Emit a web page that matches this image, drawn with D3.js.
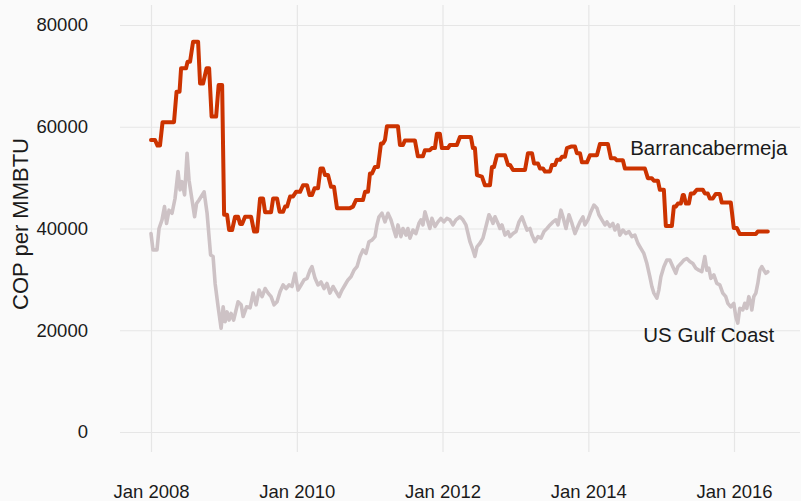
<!DOCTYPE html>
<html>
<head>
<meta charset="utf-8">
<script src="https://cdn.jsdelivr.net/npm/d3@7"></script>
<style>
  html, body { margin: 0; padding: 0; background: #fafafa; }
  svg { display: block; font-family: "Liberation Sans", Arial, sans-serif; }
  .grid line { stroke: #e6e6e6; stroke-width: 1.2; }
  .grid text { fill: #1a1a1a; font-size: 18.5px; }
  .series { fill: none; stroke-linejoin: round; stroke-linecap: round; }
</style>
</head>
<body>
<svg id="chart" width="801" height="501"></svg>
<script>
// Barrancabermeja price, decimal year -> COP per MMBTU (step-like monthly changes).
const barrYears = [
  2008.000, 2008.055, 2008.089, 2008.123, 2008.158, 2008.315, 2008.350, 2008.391,
  2008.412, 2008.480, 2008.501, 2008.535, 2008.576, 2008.645, 2008.672, 2008.713,
  2008.761, 2008.796, 2008.830, 2008.892, 2008.926, 2008.974, 2009.001, 2009.042,
  2009.070, 2009.111, 2009.152, 2009.193, 2009.221, 2009.248, 2009.289, 2009.372,
  2009.413, 2009.454, 2009.495, 2009.536, 2009.564, 2009.646, 2009.674, 2009.728,
  2009.763, 2009.811, 2009.838, 2009.866, 2009.907, 2009.948, 2009.989, 2010.044,
  2010.085, 2010.140, 2010.174, 2010.208, 2010.243, 2010.291, 2010.325, 2010.359,
  2010.387, 2010.428, 2010.469, 2010.510, 2010.551, 2010.730, 2010.771, 2010.812,
  2010.908, 2010.936, 2010.977, 2011.004, 2011.031, 2011.073, 2011.114, 2011.155,
  2011.182, 2011.210, 2011.237, 2011.388, 2011.416, 2011.457, 2011.484, 2011.621,
  2011.662, 2011.731, 2011.759, 2011.827, 2011.855, 2011.896, 2011.923, 2011.964,
  2011.992, 2012.074, 2012.101, 2012.197, 2012.239, 2012.389, 2012.417, 2012.444,
  2012.472, 2012.540, 2012.581, 2012.650, 2012.677, 2012.705, 2012.746, 2012.856,
  2012.897, 2012.924, 2012.966, 2013.130, 2013.171, 2013.226, 2013.254, 2013.308,
  2013.336, 2013.377, 2013.405, 2013.473, 2013.501, 2013.542, 2013.569, 2013.610,
  2013.638, 2013.679, 2013.706, 2013.761, 2013.816, 2013.843, 2013.885, 2013.912,
  2013.981, 2014.022, 2014.118, 2014.159, 2014.269, 2014.310, 2014.365, 2014.392,
  2014.474, 2014.502, 2014.776, 2014.817, 2014.872, 2014.900, 2014.955, 2014.982,
  2015.037, 2015.064, 2015.147, 2015.174, 2015.201, 2015.229, 2015.270, 2015.297,
  2015.311, 2015.339, 2015.380, 2015.407, 2015.448, 2015.489, 2015.572, 2015.599,
  2015.640, 2015.668, 2015.709, 2015.750, 2015.805, 2015.832, 2015.956, 2015.997,
  2016.038, 2016.079, 2016.299, 2016.326, 2016.463,
];
const barrCop = [
  57400, 57400, 56300, 56300, 60900, 60900, 66900, 66900,
  71500, 71500, 72800, 72800, 76700, 76700, 68500, 68500,
  71500, 71500, 62000, 62000, 68200, 68200, 42700, 42700,
  39700, 39700, 42300, 42300, 40900, 40900, 42300, 42300,
  39400, 39400, 45900, 45900, 43200, 43200, 45900, 45900,
  43300, 43300, 44300, 44300, 46300, 46300, 47200, 47200,
  48500, 48500, 46600, 46600, 47900, 47900, 51800, 51800,
  50500, 50500, 48200, 48200, 44000, 44000, 44300, 45600,
  45600, 47200, 47200, 50800, 50800, 52100, 52100, 56700,
  56700, 57400, 60100, 60100, 56400, 56400, 57300, 57300,
  54200, 54200, 55400, 55400, 55800, 55800, 58600, 58600,
  55800, 55800, 56400, 56400, 58000, 58000, 55800, 55800,
  50500, 50200, 48500, 48500, 52100, 52100, 54400, 54400,
  52500, 52500, 51500, 51500, 54800, 54800, 52800, 52800,
  51800, 51800, 51200, 51200, 52500, 52500, 53500, 53500,
  54100, 54100, 55800, 56100, 56100, 54800, 54800, 53000,
  53000, 54400, 54400, 56600, 56600, 53800, 53800, 53400,
  53400, 51800, 51800, 49900, 49900, 49400, 49400, 47600,
  47600, 40500, 40500, 44300, 44300, 44900, 44900, 46600,
  46600, 44900, 44900, 46900, 46900, 47600, 47600, 46900,
  46900, 45900, 45900, 46800, 46800, 45100, 45100, 40100,
  40100, 38900, 38900, 39400, 39400,
];

// US Gulf Coast price, decimal year -> COP per MMBTU (weekly, noisy).
const gulfYears = [
  2008.000, 2008.027, 2008.082, 2008.110, 2008.151, 2008.185, 2008.213, 2008.247,
  2008.288, 2008.329, 2008.370, 2008.398, 2008.425, 2008.460, 2008.494, 2008.521,
  2008.562, 2008.597, 2008.624, 2008.658, 2008.727, 2008.768, 2008.816, 2008.850,
  2008.878, 2008.919, 2008.960, 2008.988, 2009.015, 2009.042, 2009.070, 2009.097,
  2009.132, 2009.193, 2009.235, 2009.262, 2009.310, 2009.358, 2009.399, 2009.440,
  2009.481, 2009.523, 2009.564, 2009.605, 2009.646, 2009.687, 2009.728, 2009.770,
  2009.811, 2009.852, 2009.893, 2009.934, 2009.975, 2010.016, 2010.058, 2010.099,
  2010.140, 2010.181, 2010.208, 2010.250, 2010.291, 2010.332, 2010.373, 2010.414,
  2010.455, 2010.497, 2010.538, 2010.579, 2010.620, 2010.661, 2010.702, 2010.743,
  2010.785, 2010.826, 2010.867, 2010.908, 2010.949, 2010.990, 2011.031, 2011.073,
  2011.100, 2011.128, 2011.169, 2011.210, 2011.251, 2011.292, 2011.333, 2011.361,
  2011.388, 2011.429, 2011.457, 2011.498, 2011.525, 2011.553, 2011.594, 2011.635,
  2011.676, 2011.704, 2011.731, 2011.759, 2011.800, 2011.827, 2011.855, 2011.896,
  2011.937, 2011.978, 2012.019, 2012.060, 2012.101, 2012.143, 2012.184, 2012.239,
  2012.280, 2012.321, 2012.376, 2012.417, 2012.444, 2012.472, 2012.513, 2012.554,
  2012.595, 2012.636, 2012.664, 2012.691, 2012.719, 2012.760, 2012.787, 2012.815,
  2012.856, 2012.897, 2012.924, 2012.966, 2013.007, 2013.048, 2013.089, 2013.130,
  2013.158, 2013.199, 2013.226, 2013.267, 2013.308, 2013.350, 2013.391, 2013.432,
  2013.473, 2013.514, 2013.555, 2013.583, 2013.624, 2013.651, 2013.693, 2013.734,
  2013.775, 2013.816, 2013.857, 2013.885, 2013.926, 2013.953, 2013.994, 2014.035,
  2014.077, 2014.118, 2014.145, 2014.186, 2014.228, 2014.255, 2014.296, 2014.337,
  2014.365, 2014.406, 2014.433, 2014.474, 2014.516, 2014.557, 2014.598, 2014.639,
  2014.680, 2014.721, 2014.762, 2014.804, 2014.845, 2014.872, 2014.900, 2014.941,
  2014.968, 2014.996, 2015.037, 2015.078, 2015.119, 2015.160, 2015.201, 2015.229,
  2015.270, 2015.311, 2015.352, 2015.393, 2015.435, 2015.476, 2015.517, 2015.558,
  2015.599, 2015.627, 2015.654, 2015.682, 2015.723, 2015.764, 2015.805, 2015.846,
  2015.887, 2015.915, 2015.956, 2015.997, 2016.024, 2016.052, 2016.079, 2016.120,
  2016.148, 2016.175, 2016.203, 2016.230, 2016.244, 2016.271, 2016.299, 2016.326,
  2016.354, 2016.381, 2016.409, 2016.436, 2016.463,
];
const gulfCop = [
  39000, 35800, 35800, 40000, 41700, 44300, 41000, 43600,
  43000, 45900, 51200, 47600, 49200, 46600, 54800, 49500,
  45600, 42300, 44900, 45600, 47200, 43000, 34800, 34500,
  29200, 24600, 20400, 24600, 21700, 23600, 22000, 23300,
  22000, 25600, 25000, 22700, 24600, 24400, 27300, 25000,
  27900, 26600, 28200, 27300, 26600, 25000, 25600, 27600,
  28900, 28200, 28900, 28600, 31200, 27900, 28900, 29900,
  30200, 31800, 32500, 30200, 28900, 29500, 28200, 29200,
  27300, 28600, 27600, 26600, 27900, 28900, 29900, 30500,
  31800, 32500, 34500, 35800, 35100, 37400, 37700, 38400,
  40700, 42300, 43000, 41300, 43000, 41700, 39700, 38400,
  40700, 38400, 40000, 38700, 40000, 38100, 39700, 39000,
  41000, 41700, 40700, 43300, 41300, 40000, 42000, 40400,
  41300, 42000, 41300, 42000, 41700, 40700, 41700, 42300,
  41700, 40700, 37400, 35800, 34500, 36400, 37100, 38100,
  40400, 42700, 42000, 41000, 42300, 41000, 40000, 40700,
  38700, 39400, 38400, 39000, 39400, 41300, 42300, 40700,
  39700, 40000, 38700, 37400, 38400, 38100, 39400, 40000,
  40700, 41300, 41700, 40700, 43600, 42300, 40000, 42700,
  41000, 39000, 40400, 41300, 42300, 40700, 41700, 43300,
  44600, 44000, 42700, 41700, 40700, 41300, 40400, 41000,
  39700, 40700, 38700, 39700, 39000, 39400, 38400, 38700,
  37100, 36100, 35100, 33100, 30500, 28600, 27300, 26300,
  27900, 30500, 32500, 33800, 33800, 32500, 31200, 32500,
  33100, 33800, 34100, 33500, 33100, 32200, 31800, 31500,
  34500, 31800, 32200, 30200, 30900, 29200, 28900, 27300,
  26600, 25300, 24600, 25300, 22700, 21400, 24300, 24000,
  25300, 24300, 26600, 25300, 24000, 26600, 27300, 29200,
  31800, 32500, 31800, 31200, 31500,
];

const seriesNames = ['US Gulf Coast', 'Barrancabermeja'];
const seriesColors = ['#cdc2c5', '#cc3300'];
// Direct labels, placed in data units (decimal year, COP).
const labelYears = [2015.654, 2015.654];
const labelCop = [19100, 55900];

const yTicks = [0, 20000, 40000, 60000, 80000];
const xTickYears = [2008, 2010, 2012, 2014, 2016];

/**
 * Converts a decimal year (e.g. 2012.5) into a Date.
 * @param {number} value
 * @return {!Date}
 */
function yearToDate(value) {
  const year = Math.floor(value);
  const start = new Date(year, 0, 1);
  const end = new Date(year + 1, 0, 1);
  return new Date(+start + (value - year) * (end - start));
}

const svg = d3.select('#chart');
const panel = {left: 120, right: 800, top: 5, bottom: 452};

const x = d3.scaleTime()
    .domain([yearToDate(2008), yearToDate(2016)])
    .range([151, 734]);
const y = d3.scaleLinear().domain([0, 80000]).range([432, 25]);

// Horizontal gridlines with the y labels hanging off the left end.
svg.append('g')
    .attr('class', 'grid')
    .attr('transform', `translate(${panel.left},0)`)
    .call(d3.axisLeft(y)
        .tickValues(yTicks)
        .tickFormat(d3.format('d'))
        .tickSize(-(panel.right - panel.left))
        .tickPadding(32))
    .call(g => g.select('.domain').remove());

// Vertical gridlines with the date labels below.
svg.append('g')
    .attr('class', 'grid')
    .attr('transform', `translate(0,${panel.bottom})`)
    .call(d3.axisBottom(x)
        .tickValues(xTickYears.map(yearToDate))
        .tickFormat(d3.timeFormat('%b %Y'))
        .tickSize(-(panel.bottom - panel.top))
        .tickPadding(33))
    .call(g => g.select('.domain').remove());

svg.selectAll('.grid text').attr('font-family', null).attr('font-size', null);

const line = d3.line()
    .x(d => x(yearToDate(d[0])))
    .y(d => y(d[1]));

const series = [
  d3.zip(gulfYears, gulfCop),
  d3.zip(barrYears, barrCop),
];

svg.append('g')
    .selectAll('path')
    .data(series)
    .join('path')
    .attr('class', 'series')
    .attr('stroke', (d, i) => seriesColors[i])
    .attr('stroke-width', (d, i) => i === 1 ? 4 : 3.6)
    .attr('d', line);

svg.append('g')
    .selectAll('text')
    .data(seriesNames)
    .join('text')
    .attr('x', (d, i) => x(yearToDate(labelYears[i])))
    .attr('y', (d, i) => y(labelCop[i]))
    .attr('dy', '0.35em')
    .attr('text-anchor', 'middle')
    .attr('font-size', 20.5)
    .attr('fill', '#1a1a1a')
    .text(d => d);

// Y axis title.
svg.append('text')
    .attr('transform', 'translate(28,224) rotate(-90)')
    .attr('text-anchor', 'middle')
    .attr('font-size', 22)
    .attr('fill', '#1a1a1a')
    .text('COP per MMBTU');
</script>
</body>
</html>
